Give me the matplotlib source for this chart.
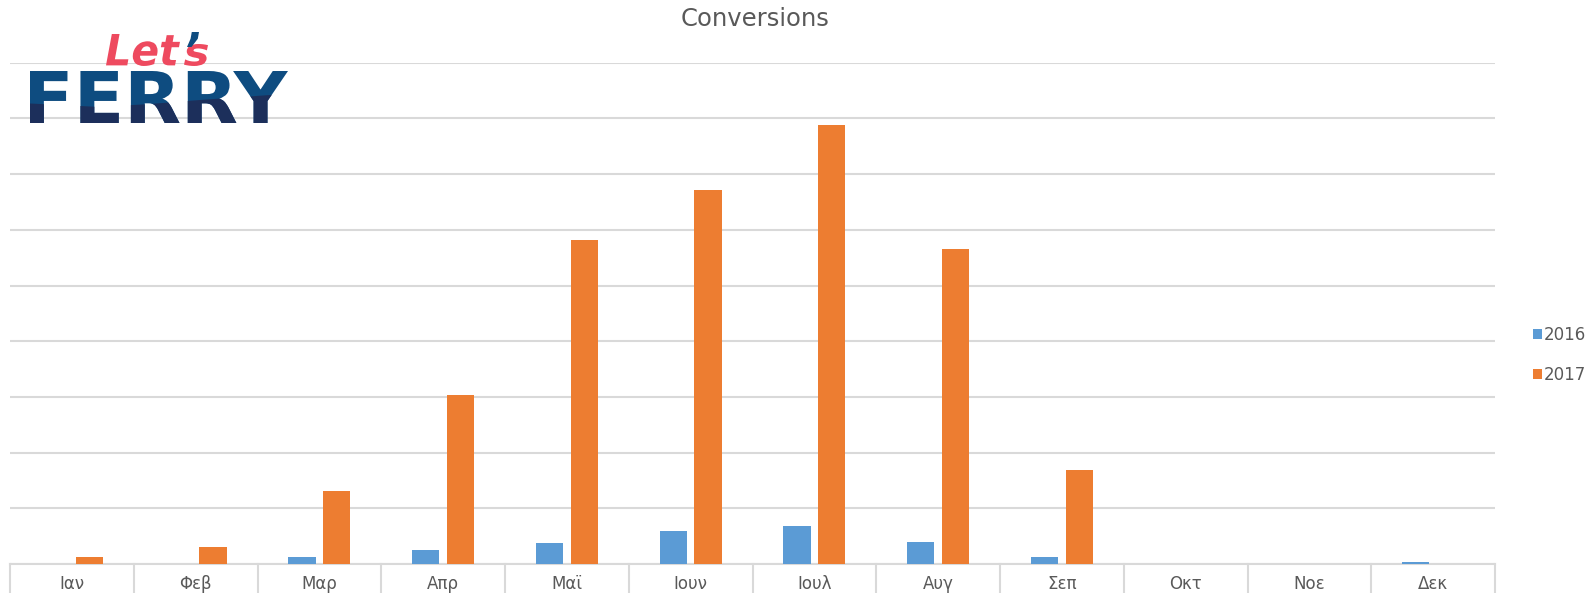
import matplotlib
matplotlib.use("Agg")
import matplotlib.pyplot as plt
from matplotlib.patches import Polygon, PathPatch
from matplotlib.textpath import TextPath
from matplotlib.font_manager import FontProperties
from matplotlib.transforms import Affine2D
import numpy as np

months = ["Ιαν", "Φεβ", "Μαρ", "Απρ", "Μαϊ", "Ιουν", "Ιουλ", "Αυγ", "Σεπ", "Οκτ", "Νοε", "Δεκ"]
series_names = ["2016", "2017"]
values_2016 = [0, 0, 13, 25, 38, 60, 69, 40, 13, 0, 0, 4]
values_2017 = [13, 31, 131, 304, 582, 671, 789, 565, 169, 0, 0, 0]

c2016 = "#5b9bd5"
c2017 = "#ed7d31"
grid_c = "#d9d9d9"
text_c = "#595959"

W, H = 1589, 593
fig = plt.figure(figsize=(W / 100, H / 100), dpi=100)
ax = fig.add_axes([10/W, 1-564/H, (1495-10)/W, (564-62.8)/H])

x = np.arange(len(months))
w = 0.22
off = 0.14
ax.bar(x - off, values_2016, width=w, color=c2016, label=series_names[0], zorder=3)
ax.bar(x + off, values_2017, width=w, color=c2017, label=series_names[1], zorder=3)

ax.set_xlim(-0.5, len(months) - 0.5)
ax.set_ylim(0, 900)
ax.set_yticks(np.arange(0, 901, 100))
ax.yaxis.grid(True, color=grid_c, linewidth=1.5, zorder=0)
ax.set_yticklabels([])
ax.tick_params(axis="y", length=0)
ax.set_xticks([])
for s in ["top", "right", "left"]:
    ax.spines[s].set_visible(False)
ax.spines["bottom"].set_color(grid_c)
ax.spines["bottom"].set_linewidth(1.5)

# category boxes
for i, m in enumerate(months):
    ax.text(i, -0.04, m, transform=ax.get_xaxis_transform(), ha="center", va="center",
            fontsize=12, color=text_c, clip_on=False)
for i in range(len(months) + 1):
    ax.plot([i - 0.5, i - 0.5], [0, -0.1], transform=ax.get_xaxis_transform(),
            color=grid_c, linewidth=1.5, clip_on=False)

fig.text(755/W, 1-19/H, "Conversions", ha="center", va="center", fontsize=17.5, color=text_c)

# legend
leg = fig.legend(loc="center left", bbox_to_anchor=(1533/W, 1-355/H), frameon=False,
                 fontsize=12, handlelength=0.55, handleheight=0.55, handletextpad=0.12,
                 labelspacing=1.3, labelcolor=text_c, borderpad=0, borderaxespad=0)

# logo (pixel-coordinate overlay axes)
lax = fig.add_axes([0, 0, 1, 1], facecolor="none")
lax.set_xlim(0, W)
lax.set_ylim(H, 0)
lax.axis("off")

def fitted_path(txt, fp, x0, x1, y0, y1):
    tp = TextPath((0, 0), txt, prop=fp, size=100)
    ext = tp.get_extents()
    sx = (x1 - x0) / ext.width
    sy = (y1 - y0) / ext.height
    tr = Affine2D().translate(-ext.x0, -ext.y0).scale(sx, -sy).translate(x0, y1)
    return tr.transform_path(tp)

fp_ferry = FontProperties(family="DejaVu Sans", weight="heavy")
p_ferry = fitted_path("FERRY", fp_ferry, 30, 288, 71, 123)
lax.add_patch(PathPatch(p_ferry, facecolor="#0e4c80", edgecolor="none", zorder=5))
dark = PathPatch(p_ferry, facecolor="#1c2f5b", edgecolor="none", zorder=6)
lax.add_patch(dark)
wave = Polygon([[0, 102], [60, 105], [100, 107], [150, 104], [200, 100], [270, 95],
                [300, 94], [300, 140], [0, 140]], closed=True, transform=lax.transData,
               facecolor="none", edgecolor="none")
lax.add_patch(wave)
dark.set_clip_path(wave)

fp_lets = FontProperties(family="DejaVu Sans", weight="heavy", style="italic")
p_let = fitted_path("Let", fp_lets, 106, 180, 34, 66)
lax.add_patch(PathPatch(p_let, facecolor="#ee4a5f", edgecolor="none", zorder=5))
p_s = fitted_path("s", fp_lets, 184, 208, 44, 66)
lax.add_patch(PathPatch(p_s, facecolor="#ee4a5f", edgecolor="none", zorder=5))
p_ap = fitted_path("’", fp_lets, 187, 199, 32, 47)
lax.add_patch(PathPatch(p_ap, facecolor="#0e4c80", edgecolor="none", zorder=5))

fig.savefig("out.png", dpi=100)
